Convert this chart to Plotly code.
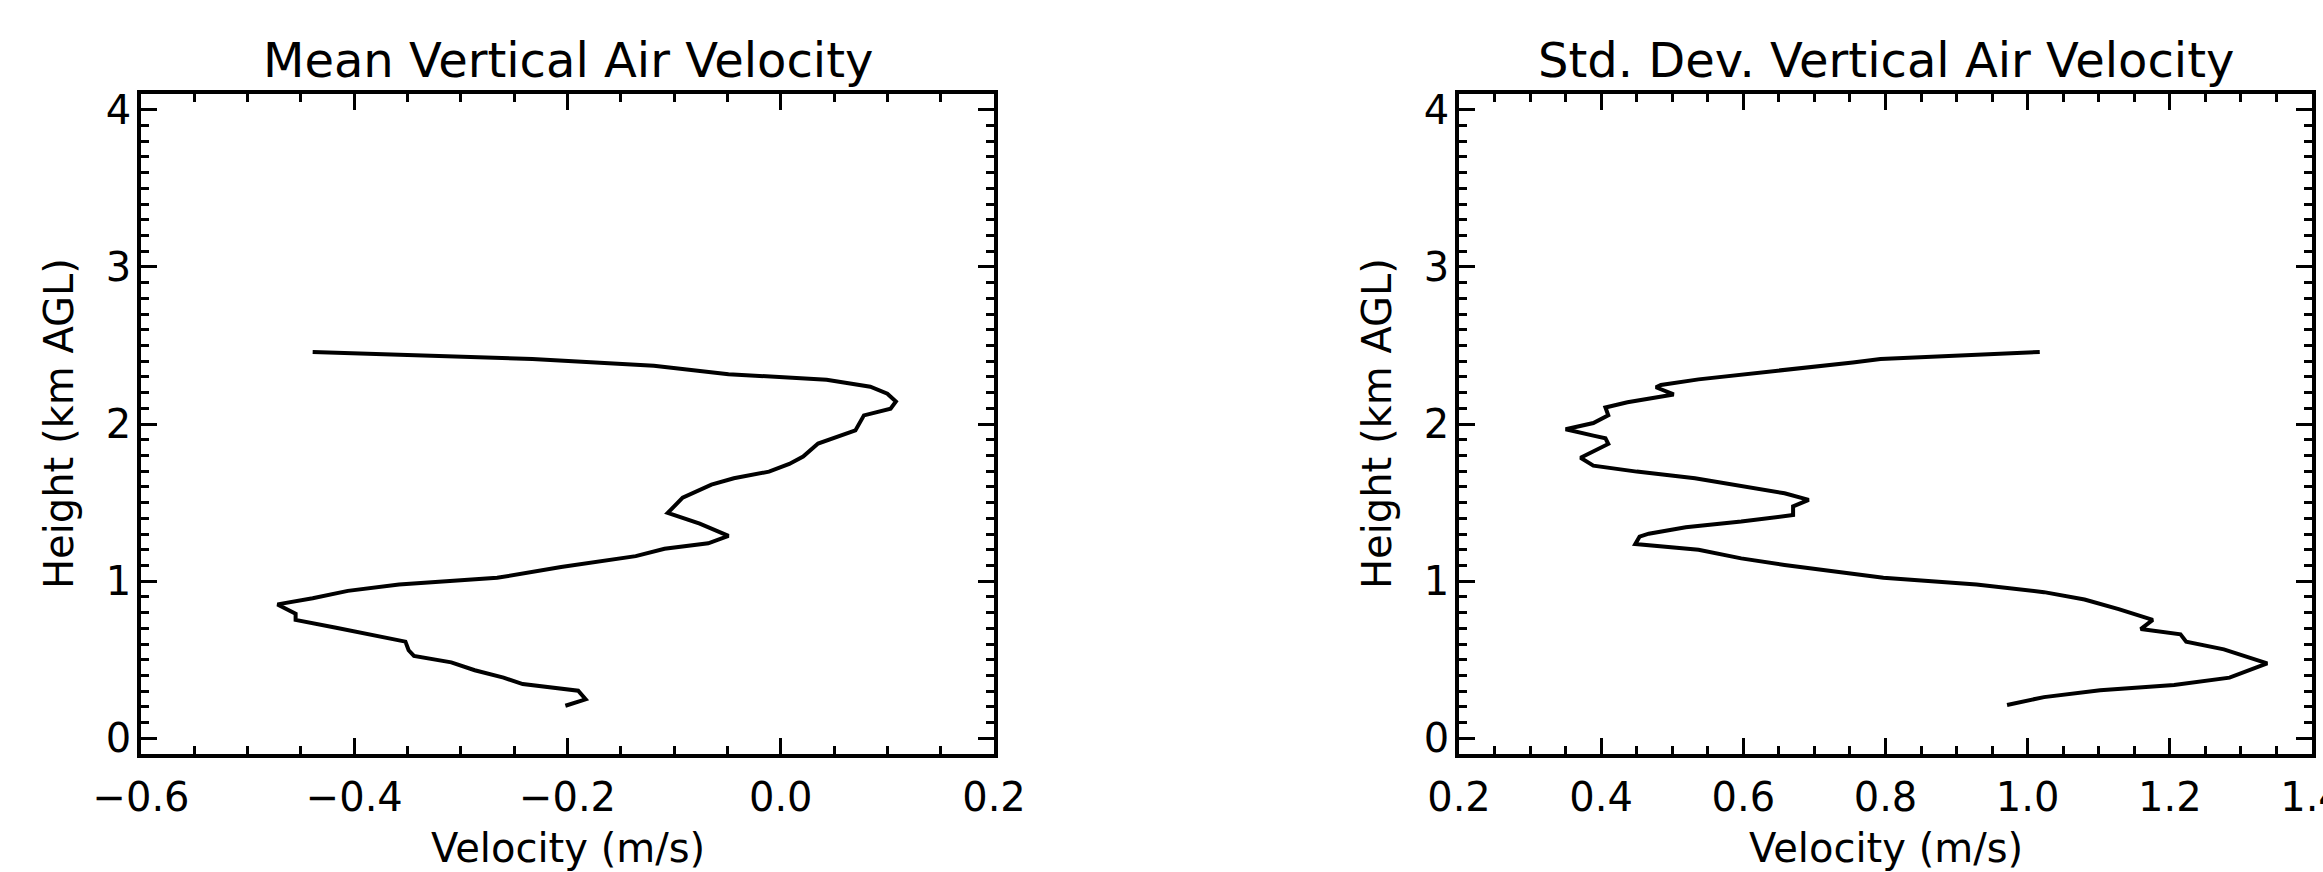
import plotly.graph_objects as go

# ---- data ----
mean_height = [2.458, 2.414, 2.370, 2.317, 2.281, 2.237, 2.193, 2.143, 2.097, 2.055,
               1.959, 1.917, 1.876, 1.793, 1.746, 1.697, 1.655, 1.614, 1.531, 1.434,
               1.366, 1.288, 1.241, 1.206, 1.159, 1.090, 1.021, 0.979, 0.938, 0.891,
               0.852, 0.792, 0.753, 0.703, 0.615, 0.560, 0.524, 0.483, 0.433, 0.386,
               0.345, 0.303, 0.248, 0.207]
mean_velocity = [-0.439, -0.233, -0.119, -0.049, 0.043, 0.084, 0.100, 0.108, 0.103, 0.078,
                 0.070, 0.051, 0.035, 0.021, 0.008, -0.011, -0.044, -0.065, -0.092, -0.106,
                 -0.076, -0.049, -0.068, -0.109, -0.136, -0.206, -0.266, -0.358, -0.406, -0.439,
                 -0.472, -0.455, -0.455, -0.417, -0.352, -0.349, -0.344, -0.309, -0.287, -0.260,
                 -0.242, -0.190, -0.183, -0.202]

std_height = [2.458, 2.414, 2.392, 2.345, 2.284, 2.248, 2.234, 2.188, 2.160, 2.138,
              2.105, 2.055, 2.006, 1.967, 1.926, 1.909, 1.873, 1.834, 1.785, 1.735,
              1.697, 1.655, 1.608, 1.559, 1.517, 1.476, 1.421, 1.379, 1.343, 1.302,
              1.283, 1.236, 1.200, 1.145, 1.103, 1.021, 0.979, 0.930, 0.883, 0.822,
              0.753, 0.695, 0.662, 0.615, 0.566, 0.477, 0.386, 0.339, 0.306, 0.262, 0.212]
std_velocity = [1.017, 0.793, 0.754, 0.658, 0.537, 0.484, 0.477, 0.502, 0.467, 0.437,
                0.406, 0.410, 0.389, 0.350, 0.389, 0.406, 0.410, 0.393, 0.371, 0.389,
                0.450, 0.532, 0.597, 0.658, 0.692, 0.670, 0.670, 0.597, 0.519, 0.467,
                0.454, 0.448, 0.537, 0.597, 0.658, 0.797, 0.928, 1.023, 1.080, 1.128,
                1.176, 1.159, 1.215, 1.223, 1.276, 1.337, 1.284, 1.206, 1.102, 1.023, 0.971]

titles = ["Mean Vertical Air Velocity", "Std. Dev. Vertical Air Velocity"]
x_title = "Velocity (m/s)"
y_title = "Height (km AGL)"
x_ranges = [[-0.6, 0.2], [0.2, 1.4]]
y_range = [-0.1, 4.1]

W, H = 2323, 872
FONT = "DejaVu Sans"
TICK_SIZE = 40
dom_x = [[141 / W, 994 / W], [1459 / W, 2312 / W]]
dom_y = [1 - 754 / H, 1 - 94 / H]

fig = go.Figure()
fig.add_trace(go.Scatter(x=mean_velocity, y=mean_height, mode="lines",
                         line=dict(color="black", width=4), xaxis="x", yaxis="y",
                         showlegend=False))
fig.add_trace(go.Scatter(x=std_velocity, y=std_height, mode="lines",
                         line=dict(color="black", width=4), xaxis="x2", yaxis="y2",
                         showlegend=False))

def xaxis(i):
    return dict(domain=dom_x[i], range=x_ranges[i], anchor="y" if i == 0 else "y2",
                dtick=0.2, tick0=0, tickformat=".1f", ticks="inside", ticklen=16, tickwidth=2.5,
                tickcolor="black", minor=dict(dtick=0.05, ticks="inside", ticklen=8,
                                              tickwidth=2.5, tickcolor="black"),
                showline=True, linewidth=3.5, linecolor="black", mirror="ticks",
                showgrid=False, zeroline=False, ticklabelstandoff=5, automargin=False,
                ticklabeloverflow="allow",
                tickfont=dict(family=FONT, size=TICK_SIZE, color="black"))

def yaxis(i):
    return dict(domain=dom_y, range=y_range, anchor="x" if i == 0 else "x2",
                dtick=1, tick0=0, ticks="inside", ticklen=16, tickwidth=2.5,
                tickcolor="black", minor=dict(dtick=0.1, ticks="inside", ticklen=8,
                                              tickwidth=2.5, tickcolor="black"),
                showline=True, linewidth=3.5, linecolor="black", mirror="ticks",
                showgrid=False, zeroline=False, ticklabelstandoff=-2, automargin=False,
                ticklabeloverflow="allow",
                tickfont=dict(family=FONT, size=TICK_SIZE, color="black"))

annotations = []
for i in range(2):
    cx = (dom_x[i][0] + dom_x[i][1]) / 2
    annotations.append(dict(text=titles[i], x=cx, y=1 - 60 / H, xref="paper", yref="paper",
                            showarrow=False, xanchor="center", yanchor="middle",
                            font=dict(family=FONT, size=48, color="black")))
    annotations.append(dict(text=x_title, x=cx, y=1 - 848 / H, xref="paper", yref="paper",
                            showarrow=False, xanchor="center", yanchor="middle",
                            font=dict(family=FONT, size=TICK_SIZE, color="black")))
    annotations.append(dict(text=y_title, x=(dom_x[i][0] * W - 82) / W,
                            y=(dom_y[0] + dom_y[1]) / 2, xref="paper", yref="paper",
                            showarrow=False, xanchor="center", yanchor="middle", textangle=-90,
                            font=dict(family=FONT, size=TICK_SIZE, color="black")))

fig.update_layout(width=W, height=H, margin=dict(l=0, r=0, t=0, b=0, autoexpand=False),
                  paper_bgcolor="white", plot_bgcolor="white",
                  xaxis=xaxis(0), yaxis=yaxis(0), xaxis2=xaxis(1), yaxis2=yaxis(1),
                  annotations=annotations, showlegend=False)

fig.write_html("out.html")
